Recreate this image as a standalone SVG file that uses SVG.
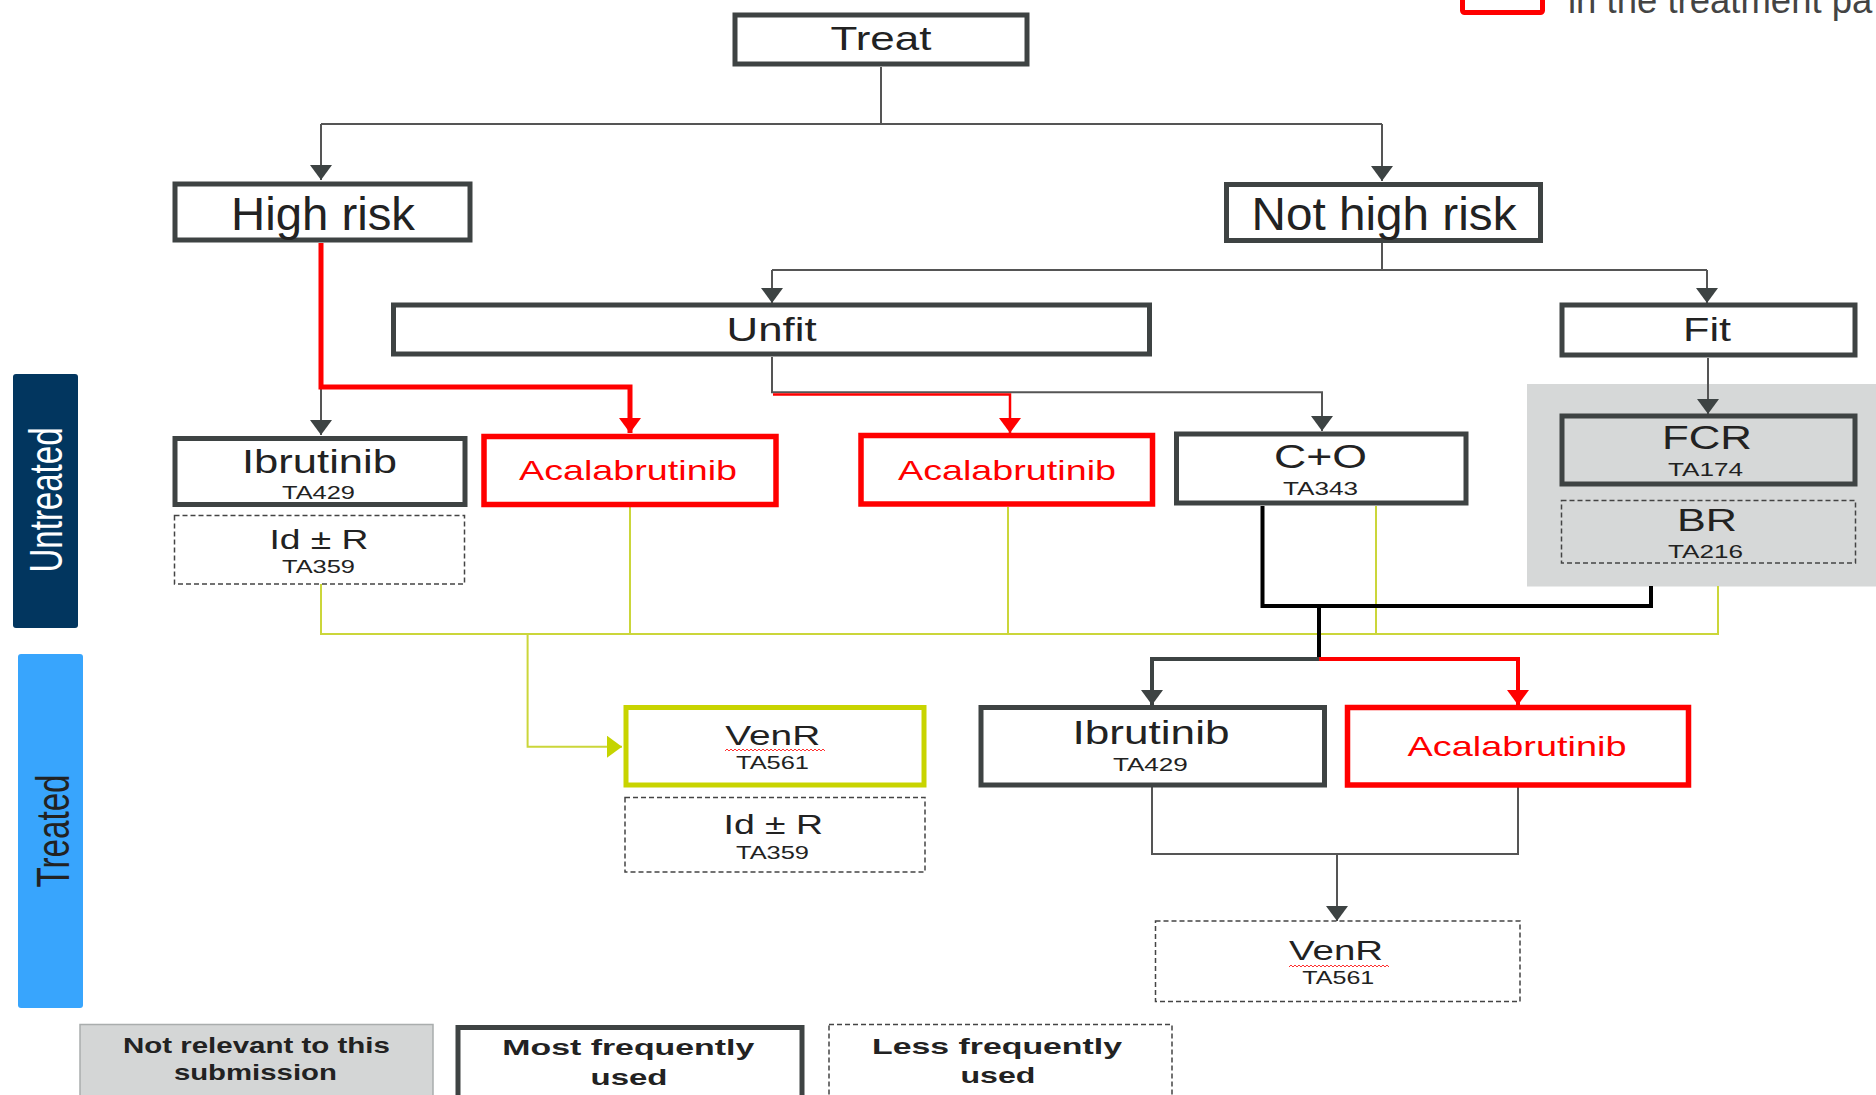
<svg xmlns="http://www.w3.org/2000/svg" width="1876" height="1095" viewBox="0 0 1876 1095">
<style>
text{font-family:"Liberation Sans",Arial,sans-serif;fill:#222;text-anchor:middle}
.box{fill:#fff;stroke:#3e4343;stroke-width:5}
.red{fill:#fff;stroke:#ff0000;stroke-width:5.5}
.dash{fill:#fff;stroke:#444;stroke-width:1.5;stroke-dasharray:5 3}
.yel{fill:#fff;stroke:#c8d400;stroke-width:5}
.big{font-size:46px}
.mid{font-size:33px}
.sm{font-size:18.5px}
.rt{fill:#ff0000;font-size:28px}
.leg{font-weight:bold;font-size:22px}
.c{fill:none;stroke:#555;stroke-width:2}
.cr{fill:none;stroke:#ff0000}
.cy{fill:none;stroke:#cbd63a;stroke-width:2}
.cb{fill:none;stroke:#000;stroke-width:4}
.wave{fill:none;stroke:#ff3030;stroke-width:1}
</style>
<defs>
<marker id="ag" viewBox="0 0 15 22" refX="15" refY="11" markerWidth="15" markerHeight="22" markerUnits="userSpaceOnUse" orient="auto"><path d="M0,0 L15,11 L0,22 z" fill="#3d4343"/></marker>
<marker id="ar" viewBox="0 0 15 22" refX="15" refY="11" markerWidth="15" markerHeight="22" markerUnits="userSpaceOnUse" orient="auto"><path d="M0,0 L15,11 L0,22 z" fill="#ff0000"/></marker>
<marker id="ay" viewBox="0 0 15 22" refX="15" refY="11" markerWidth="15" markerHeight="22" markerUnits="userSpaceOnUse" orient="auto"><path d="M0,0 L15,11 L0,22 z" fill="#c5d400"/></marker>
</defs>
<rect width="1876" height="1095" fill="#fff"/>

<g id="side-labels">
<rect x="13" y="374" width="65" height="254" rx="3" fill="#02365f"/>
<text transform="translate(62,500) rotate(-90)" style="font-size:46px;fill:#fff" textLength="145" lengthAdjust="spacingAndGlyphs">Untreated</text>
<rect x="18" y="654" width="65" height="354" rx="3" fill="#38a5fd"/>
<text transform="translate(69,831) rotate(-90)" style="font-size:46px;fill:#222" textLength="113" lengthAdjust="spacingAndGlyphs">Treated</text>
</g>

<g id="top-legend">
<rect x="1462.5" y="-10" width="80" height="22.5" fill="none" stroke="#ff0000" stroke-width="5" rx="2"/>
<text x="1568" y="13" style="font-size:36.5px;fill:#444;text-anchor:start">in the treatment pa</text>
</g>

<g id="not-relevant-area">
<rect x="1527" y="384" width="349" height="202.5" fill="#d6d8d8"/>
</g>

<g id="connectors">
<path class="c" d="M881,67 V124 M321,124 H1382"/>
<path class="c" d="M321,124 V180" marker-end="url(#ag)"/>
<path class="c" d="M1382,124 V181" marker-end="url(#ag)"/>
<path class="c" d="M1382,243 V270 M772,270 H1707"/>
<path class="c" d="M772,270 V303" marker-end="url(#ag)"/>
<path class="c" d="M1707,270 V303" marker-end="url(#ag)"/>
<path class="c" d="M321,387 V435" marker-end="url(#ag)"/>
<path class="cr" stroke-width="5" d="M321,243 V387 H630 V433" marker-end="url(#ar)"/>
<path class="c" d="M772,357 V392.3 H1322 V431" marker-end="url(#ag)"/>
<path class="cr" stroke-width="2.5" d="M773,394.5 H1010 V433" marker-end="url(#ar)"/>
<path class="c" d="M1708,358 V414" marker-end="url(#ag)"/>
<path class="cy" d="M321,584 V634 H1718 V586 M630,507 V634 M1008,507 V634 M1376,506 V634"/>
<path class="cy" d="M527.6,634 V746.7 H622" marker-end="url(#ay)"/>
<path class="cb" d="M1262.5,506 V606 H1651 V586 M1319,606 V659"/>
<path fill="none" stroke="#3d4343" stroke-width="4" d="M1319,659 H1152 V705" marker-end="url(#ag)"/>
<path class="cr" stroke-width="4" d="M1319,659 H1518 V705" marker-end="url(#ar)"/>
<path class="c" d="M1152,787 V854 H1518 V787 M1337,854"/>
<path class="c" d="M1337,854 V921" marker-end="url(#ag)"/>
</g>

<g id="treat"><rect class="box" x="735" y="15" width="292" height="49"/>
<text class="mid" x="881" y="50" textLength="101" lengthAdjust="spacingAndGlyphs">Treat</text></g>

<g id="high-risk"><rect class="box" x="175" y="184" width="295" height="56"/>
<text class="big" x="323" y="230" textLength="184" lengthAdjust="spacingAndGlyphs">High risk</text></g>

<g id="not-high-risk"><rect class="box" x="1226.5" y="184.5" width="314" height="56"/>
<text class="big" x="1384" y="230" textLength="265" lengthAdjust="spacingAndGlyphs">Not high risk</text></g>

<g id="unfit"><rect class="box" x="393.5" y="305" width="756" height="49"/>
<text class="mid" x="771.6" y="341" textLength="90" lengthAdjust="spacingAndGlyphs">Unfit</text></g>

<g id="fit"><rect class="box" x="1562" y="305" width="293" height="50"/>
<text class="mid" x="1707" y="341" textLength="48" lengthAdjust="spacingAndGlyphs">Fit</text></g>

<g id="ibrutinib-untreated"><rect class="box" x="175" y="438.5" width="290" height="66"/>
<text class="mid" x="319.5" y="473" textLength="155" lengthAdjust="spacingAndGlyphs">Ibrutinib</text>
<text class="sm" x="318.5" y="499" textLength="73" lengthAdjust="spacingAndGlyphs">TA429</text></g>

<g id="idr-untreated"><rect class="dash" x="174.5" y="515.5" width="290" height="68.5"/>
<text x="319" y="549" style="font-size:27px" textLength="99" lengthAdjust="spacingAndGlyphs">Id ± R</text>
<text class="sm" x="318.5" y="573" textLength="73" lengthAdjust="spacingAndGlyphs">TA359</text></g>

<g id="acalabrutinib-high-risk"><rect class="red" x="484" y="436.5" width="292" height="68"/>
<text class="rt" x="628" y="480" textLength="218" lengthAdjust="spacingAndGlyphs">Acalabrutinib</text></g>

<g id="acalabrutinib-unfit"><rect class="red" x="861" y="435.5" width="291.5" height="68.5"/>
<text class="rt" x="1007" y="480" textLength="218" lengthAdjust="spacingAndGlyphs">Acalabrutinib</text></g>

<g id="co"><rect class="box" x="1176.5" y="434" width="289.5" height="69"/>
<text class="mid" x="1320.5" y="468" textLength="93" lengthAdjust="spacingAndGlyphs">C+O</text>
<text class="sm" x="1320.5" y="495" textLength="75" lengthAdjust="spacingAndGlyphs">TA343</text></g>

<g id="fcr"><rect class="box" x="1562" y="416" width="293" height="68" style="fill:#d6d8d8"/>
<text class="mid" x="1707" y="449" textLength="90" lengthAdjust="spacingAndGlyphs">FCR</text>
<text class="sm" x="1705.5" y="476" textLength="75" lengthAdjust="spacingAndGlyphs">TA174</text></g>

<g id="br"><rect class="dash" x="1561.5" y="500.5" width="294" height="62.5" style="fill:#d6d8d8"/>
<text x="1707" y="531" style="font-size:32px" textLength="60" lengthAdjust="spacingAndGlyphs">BR</text>
<text class="sm" x="1705.5" y="558" textLength="75" lengthAdjust="spacingAndGlyphs">TA216</text></g>

<g id="venr-treated"><rect class="yel" x="626" y="707.5" width="298" height="77.5"/>
<text x="772.7" y="745" style="font-size:28px" textLength="95" lengthAdjust="spacingAndGlyphs">VenR</text>
<path class="wave" d="M725,751 l2,-2 l2,2 l2,-2 l2,2 l2,-2 l2,2 l2,-2 l2,2 l2,-2 l2,2 l2,-2 l2,2 l2,-2 l2,2 l2,-2 l2,2 l2,-2 l2,2 l2,-2 l2,2 l2,-2 l2,2 l2,-2 l2,2 l2,-2 l2,2 l2,-2 l2,2 l2,-2 l2,2 l2,-2 l2,2 l2,-2 l2,2 l2,-2 l2,2 l2,-2 l2,2 l2,-2 l2,2 l2,-2 l2,2 l2,-2 l2,2 l2,-2 l2,2 l2,-2 l2,2 l2,-2 l2,2"/>
<text class="sm" x="772.5" y="769" textLength="73" lengthAdjust="spacingAndGlyphs">TA561</text></g>

<g id="idr-treated"><rect class="dash" x="625" y="797.5" width="300" height="74.5"/>
<text x="773.3" y="834" style="font-size:27px" textLength="99.5" lengthAdjust="spacingAndGlyphs">Id ± R</text>
<text class="sm" x="772.5" y="859" textLength="73" lengthAdjust="spacingAndGlyphs">TA359</text></g>

<g id="ibrutinib-treated"><rect class="box" x="981" y="707.5" width="343.5" height="77.5"/>
<text class="mid" x="1151" y="744" textLength="157" lengthAdjust="spacingAndGlyphs">Ibrutinib</text>
<text class="sm" x="1150.4" y="771" textLength="75" lengthAdjust="spacingAndGlyphs">TA429</text></g>

<g id="acalabrutinib-treated"><rect class="red" x="1347.5" y="707.5" width="341" height="77.5"/>
<text class="rt" x="1517" y="756" textLength="219" lengthAdjust="spacingAndGlyphs">Acalabrutinib</text></g>

<g id="venr-after-btki"><rect class="dash" x="1155.5" y="921" width="364.5" height="80.5"/>
<text x="1336" y="960" style="font-size:28px" textLength="94" lengthAdjust="spacingAndGlyphs">VenR</text>
<path class="wave" d="M1289,967 l2,-2 l2,2 l2,-2 l2,2 l2,-2 l2,2 l2,-2 l2,2 l2,-2 l2,2 l2,-2 l2,2 l2,-2 l2,2 l2,-2 l2,2 l2,-2 l2,2 l2,-2 l2,2 l2,-2 l2,2 l2,-2 l2,2 l2,-2 l2,2 l2,-2 l2,2 l2,-2 l2,2 l2,-2 l2,2 l2,-2 l2,2 l2,-2 l2,2 l2,-2 l2,2 l2,-2 l2,2 l2,-2 l2,2 l2,-2 l2,2 l2,-2 l2,2 l2,-2 l2,2 l2,-2 l2,2"/>
<text class="sm" x="1338.3" y="984" textLength="72" lengthAdjust="spacingAndGlyphs">TA561</text></g>

<g id="legend-not-relevant"><rect x="80" y="1024.5" width="353" height="80" fill="#d4d6d6" stroke="#a9adad" stroke-width="1.5"/>
<text class="leg" x="256.4" y="1053" textLength="267" lengthAdjust="spacingAndGlyphs">Not relevant to this</text>
<text class="leg" x="255.4" y="1080" textLength="163" lengthAdjust="spacingAndGlyphs">submission</text></g>

<g id="legend-most"><rect class="box" x="458" y="1027.5" width="344" height="80"/>
<text class="leg" x="628.3" y="1055" textLength="252" lengthAdjust="spacingAndGlyphs">Most frequently</text>
<text class="leg" x="629" y="1085" textLength="77" lengthAdjust="spacingAndGlyphs">used</text></g>

<g id="legend-less"><rect class="dash" x="829" y="1024.5" width="343" height="80"/>
<text class="leg" x="997" y="1054" textLength="250" lengthAdjust="spacingAndGlyphs">Less frequently</text>
<text class="leg" x="998" y="1083" textLength="75" lengthAdjust="spacingAndGlyphs">used</text></g>
</svg>
